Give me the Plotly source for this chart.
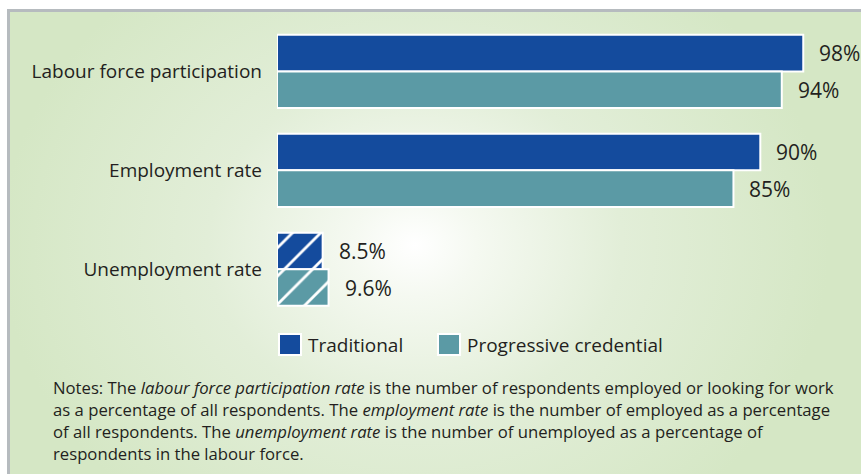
import base64
import plotly.graph_objects as go

# ---- data ----
categories = ["Labour force participation", "Employment rate", "Unemployment rate"]
traditional = [98, 90, 8.5]
progressive = [94, 85, 9.6]
series_names = ["Traditional", "Progressive credential"]
value_labels_trad = ["98%", "90%", "8.5%"]
value_labels_prog = ["94%", "85%", "9.6%"]
hatched = [False, False, True]   # unemployment shown with diagonal hatching

notes_lines = [
    "Notes: The <i>labour force participation rate</i> is the number of respondents employed or looking for work",
    "as a percentage of all respondents. The <i>employment rate</i> is the number of employed as a percentage",
    "of all respondents. The <i>unemployment rate</i> is the number of unemployed as a percentage of",
    "respondents in the labour force.",
]

# ---- style ----
W, H = 861, 474
FONT = "Open Sans"
TXT = "#231f20"
C_TRAD = "#144b9d"
C_PROG = "#5b9aa5"
GREEN = "#d5e7c5"
BORDER = "#b6bbbf"


def px(x):
    return x / W


def py(y):
    return 1 - y / H


# panel background: grey frame, pale green fill with a soft white glow
svg = f"""<svg xmlns='http://www.w3.org/2000/svg' width='{W}' height='{H}' viewBox='0 0 {W} {H}'>
<defs>
<radialGradient id='g' gradientUnits='userSpaceOnUse' cx='415' cy='245' r='360'
  gradientTransform='translate(415 245) scale(1.15 0.95) translate(-415 -245)'>
<stop offset='0' stop-color='#ffffff'/>
<stop offset='0.15' stop-color='#f5f9f1'/>
<stop offset='0.5' stop-color='#e2eed8'/>
<stop offset='1' stop-color='{GREEN}'/>
</radialGradient>
</defs>
<rect x='0' y='0' width='{W}' height='{H}' fill='#ffffff'/>
<rect x='7' y='9' width='{W}' height='{H}' fill='{BORDER}'/>
<rect x='10' y='12' width='{W}' height='{H}' fill='url(#g)'/>
</svg>"""
bg_uri = "data:image/svg+xml;base64," + base64.b64encode(svg.encode()).decode()

X0_PX = 277          # pixel where the value axis starts
SCALE = 5.37         # pixels per percentage point
Y_TOP, Y_BOT = 22.0, 318.7

fig = go.Figure()


def pattern_for(color):
    return dict(
        shape=["/" if h else "" for h in hatched],
        fgcolor="#ffffff",
        bgcolor=color,
        size=20,
        solidity=0.14,
        fillmode="replace",
    )


fig.add_trace(go.Bar(
    y=categories, x=traditional, orientation="h", name=series_names[0],
    marker=dict(color=C_TRAD, line=dict(color="#ffffff", width=2), pattern=pattern_for(C_TRAD)),
    showlegend=False, hoverinfo="skip",
))
fig.add_trace(go.Bar(
    y=categories, x=progressive, orientation="h", name=series_names[1],
    marker=dict(color=C_PROG, line=dict(color="#ffffff", width=2), pattern=pattern_for(C_PROG)),
    showlegend=False, hoverinfo="skip",
))

annotations = []
# value labels at the end of each bar
for cat, v, lab in zip(categories, traditional, value_labels_trad):
    annotations.append(dict(x=v, y=cat, xref="x", yref="y", text=lab, showarrow=False,
                            xanchor="left", yanchor="middle", xshift=14, yshift=18,
                            font=dict(family=FONT, size=21, color=TXT)))
for cat, v, lab in zip(categories, progressive, value_labels_prog):
    annotations.append(dict(x=v, y=cat, xref="x", yref="y", text=lab, showarrow=False,
                            xanchor="left", yanchor="middle", xshift=14, yshift=-19,
                            font=dict(family=FONT, size=21, color=TXT)))

# legend
legend_items = [(279, C_TRAD, series_names[0]), (438, C_PROG, series_names[1])]
shapes = []
for x_left, col, name in legend_items:
    shapes.append(dict(type="rect", xref="paper", yref="paper",
                       x0=px(x_left), x1=px(x_left + 22), y0=py(355), y1=py(334),
                       fillcolor=col, line=dict(color="#ffffff", width=2), layer="above"))
    annotations.append(dict(x=px(x_left + 27), y=py(345), xref="paper", yref="paper",
                            text=name, showarrow=False, xanchor="left", yanchor="middle",
                            font=dict(family=FONT, size=19, color=TXT)))

# notes below the chart
for i, line in enumerate(notes_lines):
    annotations.append(dict(x=px(51), y=py(387 + 22 * i), xref="paper", yref="paper",
                            text=line, showarrow=False, xanchor="left", yanchor="middle",
                            align="left", font=dict(family=FONT, size=16.7, color=TXT)))

fig.update_layout(
    width=W, height=H,
    margin=dict(l=0, r=0, t=0, b=0),
    paper_bgcolor="#ffffff",
    plot_bgcolor="rgba(0,0,0,0)",
    barmode="group", bargap=0.26, bargroupgap=0,
    font=dict(family=FONT, color=TXT),
    xaxis=dict(domain=[px(X0_PX), 1], range=[0, (W - X0_PX) / SCALE],
               showgrid=False, zeroline=False, showticklabels=False, showline=False),
    yaxis=dict(domain=[py(Y_BOT), py(Y_TOP)], autorange="reversed",
               showgrid=False, zeroline=False, showline=False, ticks="",
               ticklabelstandoff=14, tickfont=dict(family=FONT, size=19, color=TXT)),
    images=[dict(source=bg_uri, xref="paper", yref="paper", x=0, y=1, sizex=1, sizey=1,
                 sizing="stretch", layer="below", xanchor="left", yanchor="top")],
    shapes=shapes,
    annotations=annotations,
)

fig.write_html("out.html")
